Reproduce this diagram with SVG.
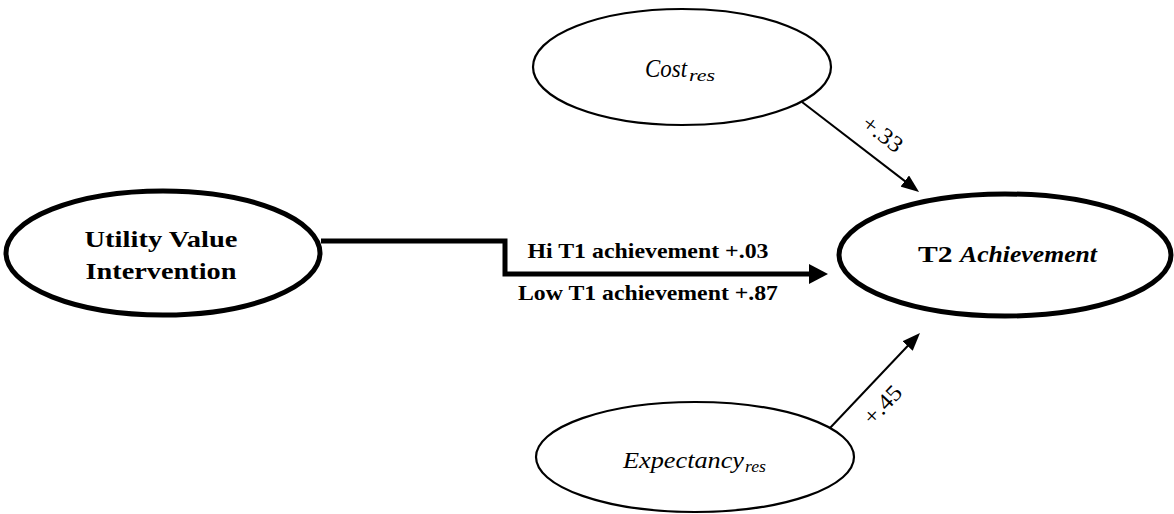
<svg xmlns="http://www.w3.org/2000/svg" width="1174" height="514" viewBox="0 0 1174 514">
  <style>
    .node { fill: #ffffff; stroke: #000000; }
    .thick { stroke-width: 5; }
    .thin { stroke-width: 2.2; }
    text { font-family: 'Liberation Serif', 'Times New Roman', Times, serif; fill: #000000; }
    .bold { font-weight: bold; }
    .ital { font-style: italic; }
    .conn { fill: none; stroke: #000000; }
  </style>
  <defs>
    <marker id="head" markerUnits="userSpaceOnUse" viewBox="0 0 18 14" refX="10" refY="7" markerWidth="18" markerHeight="14" orient="auto">
      <path d="M0,0 L18,7 L0,14 z" fill="#000000"/>
    </marker>
    <marker id="headBold" markerUnits="userSpaceOnUse" viewBox="0 0 19 20" refX="10" refY="10" markerWidth="19" markerHeight="20" orient="auto">
      <path d="M0,0 L19,10 L0,20 z" fill="#000000"/>
    </marker>
  </defs>

  <!-- connectors -->
  <g id="connectors">
    <path class="conn" stroke-width="5" d="M321 241 H505 V274 H819" marker-end="url(#headBold)"/>
    <line class="conn" stroke-width="2" x1="802" y1="102" x2="912.7" y2="187.1" marker-end="url(#head)"/>
    <line class="conn" stroke-width="2" x1="830" y1="428" x2="914.5" y2="338.8" marker-end="url(#head)"/>
    <text class="bold" x="648" y="258" font-size="22" textLength="241" lengthAdjust="spacingAndGlyphs" text-anchor="middle">Hi T1 achievement +.03</text>
    <text class="bold" x="648" y="300" font-size="22" textLength="260" lengthAdjust="spacingAndGlyphs" text-anchor="middle">Low T1 achievement +.87</text>
    <text font-size="23" text-anchor="middle" textLength="45" lengthAdjust="spacingAndGlyphs" transform="translate(878 140) rotate(37.6)">+.33</text>
    <text font-size="23" text-anchor="middle" textLength="45" lengthAdjust="spacingAndGlyphs" transform="translate(888 410) rotate(-46.5)">+.45</text>
  </g>

  <!-- Utility Value Intervention -->
  <g id="utility">
    <ellipse class="node thick" cx="163" cy="253" rx="157" ry="62"/>
    <text class="bold" x="161" y="247" font-size="23" text-anchor="middle" textLength="153" lengthAdjust="spacingAndGlyphs">Utility Value</text>
    <text class="bold" x="161" y="279" font-size="23" text-anchor="middle" textLength="151" lengthAdjust="spacingAndGlyphs">Intervention</text>
  </g>

  <!-- Cost residual -->
  <g id="cost">
    <ellipse class="node thin" cx="682" cy="67" rx="149" ry="58"/>
    <text class="ital" x="645" y="77" font-size="25"><tspan textLength="42" lengthAdjust="spacingAndGlyphs">Cost</tspan><tspan font-size="17" dx="2" dy="4" textLength="26" lengthAdjust="spacingAndGlyphs">res</tspan></text>
  </g>

  <!-- Expectancy residual -->
  <g id="expectancy">
    <ellipse class="node thin" cx="695" cy="457" rx="159" ry="55"/>
    <text class="ital" x="623" y="468" font-size="24"><tspan textLength="121" lengthAdjust="spacingAndGlyphs">Expectancy</tspan><tspan font-size="17" dx="1" dy="4" textLength="21" lengthAdjust="spacingAndGlyphs">res</tspan></text>
  </g>

  <!-- T2 Achievement -->
  <g id="achievement">
    <ellipse class="node thick" cx="1005" cy="255" rx="166" ry="61"/>
    <text class="bold" x="918" y="262" font-size="24"><tspan textLength="42" lengthAdjust="spacingAndGlyphs">T2 </tspan><tspan class="ital" textLength="137" lengthAdjust="spacingAndGlyphs">Achievement</tspan></text>
  </g>
</svg>
